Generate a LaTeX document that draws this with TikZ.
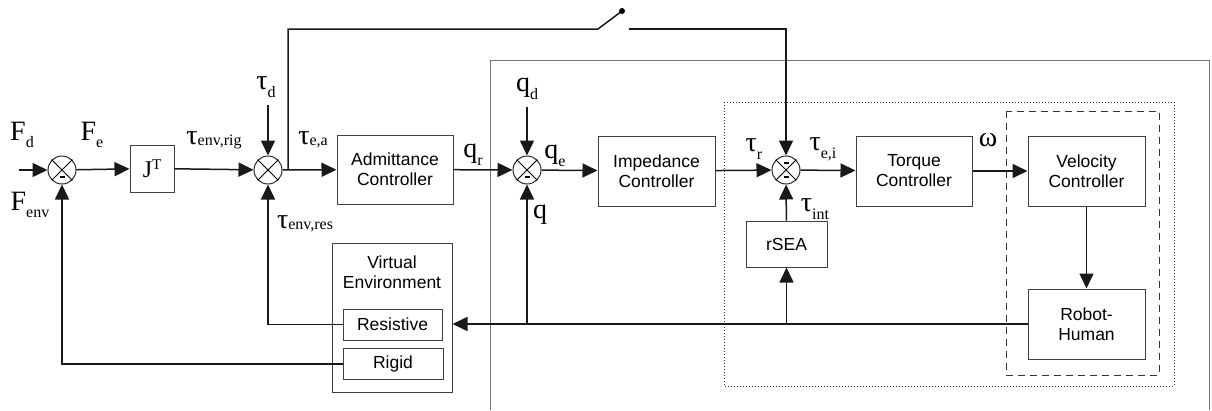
\documentclass[tikz,border=0pt]{standalone}
\usepackage{fontspec}
\setmainfont{Liberation Sans}
\newfontfamily\lblfont{Liberation Serif}
\usetikzlibrary{arrows.meta,positioning}

% label with subscript / superscript in serif
\newcommand{\lsub}[3][-0.6ex]{{\lblfont\fontsize{28}{28}\selectfont #2\raisebox{#1}{\fontsize{16}{16}\selectfont #3}}}
\newcommand{\lsup}[2]{{\lblfont\fontsize{24}{24}\selectfont #1\raisebox{0.7ex}{\fontsize{15}{15}\selectfont #2}}}

\tikzset{
  block/.style={draw=black!75, line width=1pt, align=center, font=\fontsize{17.5}{20}\selectfont},
  sumnode/.style={draw=black!85, line width=1pt, circle, minimum size=28pt, inner sep=0pt},
  conn/.style={line width=1.5pt, black!90},
  arr/.style={conn, -{Triangle[length=15pt,width=14pt]}},
  minus/.style={line width=1.5pt}
}

\begin{document}
\begin{tikzpicture}[x=1pt,y=-1pt]

\useasboundingbox (0,0) rectangle (1212,410);

% Draw the frames
\draw[black!55, line width=1pt] (490,410) -- (490,60) -- (1209,60) -- (1209,410);
\draw[black!80, line width=1pt, dotted] (724,102) rectangle (1174,386);
\draw[black!80, line width=1pt, dash pattern=on 7pt off 5pt] (1006,111) rectangle (1159,375);

% Summing junctions
\foreach \n/\x in {sum1/62, sum2/268, sum3/527, sum4/786}
{
    \node[sumnode] (\n) at (\x,170) {};
    \draw[line width=0.8pt] (\n.north west) -- (\n.south east);
    \draw[line width=0.8pt] (\n.north east) -- (\n.south west);
}

% Minus signs
\foreach \x/\y in {62/177, 527/177, 786/177, 786/163}
{
    \draw[minus] (\x-2.5,\y) -- (\x+2.5,\y);
}

% Blocks
\node[block, minimum width=44pt, minimum height=47pt] (jt) at (152,168.5) {\lsup{J}{T}};
\node[block, minimum width=116pt, minimum height=69pt] (adm) at (395,169.5) {Admittance\\Controller};
\node[block, minimum width=117pt, minimum height=70pt] (imp) at (656.5,171) {Impedance\\Controller};
\node[block, minimum width=81pt, minimum height=46pt] (rsea) at (786.5,244) {rSEA};
\node[block, minimum width=116pt, minimum height=70pt] (torq) at (914,171) {Torque\\Controller};
\node[block, minimum width=117pt, minimum height=70pt] (vel) at (1086.5,171) {Velocity\\Controller};
\node[block, minimum width=117pt, minimum height=70pt] (rob) at (1086.5,324) {Robot-\\Human};

% Virtual environment
\node[block, minimum width=120pt, minimum height=149pt] (venv) at (392,317.5) {};
\node[font=\fontsize{17.5}{20}\selectfont, align=center] (vtxt) at (392,272) {Virtual\\Environment};
\node[block, minimum width=99pt, minimum height=31pt] (res) at (392.5,324.5) {Resistive};
\node[block, minimum width=100pt, minimum height=31pt] (rig) at (393,364) {Rigid};

% Free ends
\coordinate (in) at (19,170);
\coordinate (td) at (268,105);
\coordinate (qd) at (527,107);
\coordinate (br) at (288,170);
\coordinate (sw1) at (598,29);
\coordinate (sw2) at (622,11);
\coordinate (sw3) at (629,29);

% Forward path
\draw[arr] (in) -- (sum1);
\draw[arr] (sum1) -- (jt);
\draw[arr] (jt) -- (sum2);
\draw[arr] (sum2) -- (adm);
\draw[arr] (adm) -- (sum3);
\draw[arr] (sum3) -- (imp);
\draw[arr] (imp) -- (sum4);
\draw[arr] (sum4) -- (torq);
\draw[arr] (torq) -- (vel);
\draw[arr] (vel) -- (rob);
\draw[arr] (td) -- (sum2);
\draw[arr] (qd) -- (sum3);
\draw[arr] (rsea) -- (sum4);

% Feedback paths
\draw[arr] (rob.west |- 0,324) -- (venv.east |- 0,324);
\draw[arr] (sum3 |- 0,324) -- (sum3);
\draw[arr] (rsea |- 0,324) -- (rsea);
\draw[arr] (res.west) -| (sum2);
\draw[arr] (rig.west) -| (sum1);

% Switch loop
\draw[conn] (br) |- (sw1) -- (sw2);
\fill (sw2) circle (3);
\draw[arr] (sw3) -| (sum4);

% Signal labels
\node (lfd) at (22,135) {\lsub{F}{d}};
\node (lfe) at (92,135) {\lsub{F}{e}};
\node (lfenv) at (30,205) {\lsub{F}{env}};
\node (ltd) at (266,87) {\lsub{τ}{d}};
\node (ltrig) at (214,140) {\lsub[-0.1ex]{τ}{env,rig}};
\node (ltea) at (313,140) {\lsub[-0.1ex]{τ}{e,a}};
\node (ltres) at (305,224) {\lsub[-0.1ex]{τ}{env,res}};
\node (lqr) at (473,155) {\lsub{q}{r}};
\node (lqd) at (527,89) {\lsub{q}{d}};
\node (lqe) at (555,156) {\lsub{q}{e}};
\node (lq) at (540,216) {\lsub{q}{}};
\node (ltr) at (754,149) {\lsub{τ}{r}};
\node (ltei) at (823,149) {\lsub{τ}{e,i}};
\node (ltint) at (815,209) {\lsub{τ}{int}};
\node (lw) at (988,144) {\lsub{ω}{}};

\end{tikzpicture}
\end{document}
